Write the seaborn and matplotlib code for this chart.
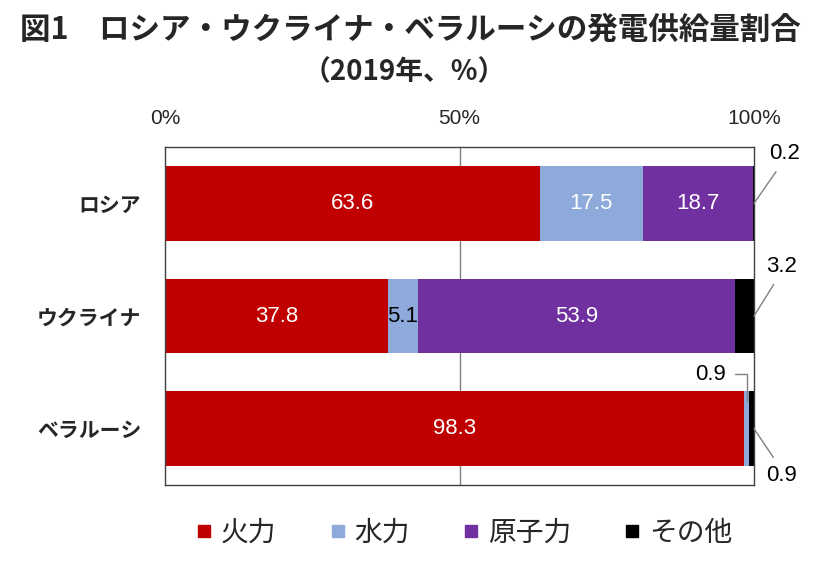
import matplotlib
matplotlib.use("Agg")
import matplotlib.pyplot as plt
from matplotlib.lines import Line2D
import pandas as pd
import seaborn as sns

# データ（2019年、%）
countries = ["ロシア", "ウクライナ", "ベラルーシ"]
sources = ["火力", "水力", "原子力", "その他"]
thermal = [63.6, 37.8, 98.3]
hydro = [17.5, 5.1, 0.9]
nuclear = [18.7, 53.9, 0.0]
other = [0.2, 3.2, 0.9]
colors = ["#C00000", "#8EAADB", "#7030A0", "#000000"]

sns.set_theme(style="white")
plt.rcParams["font.family"] = ["Liberation Sans", "Noto Sans CJK JP"]
JP = ["Noto Sans CJK JP", "Liberation Sans"]

df = pd.DataFrame({"国": countries, "火力": thermal, "水力": hydro,
                   "原子力": nuclear, "その他": other})
cum = df[sources].cumsum(axis=1)
cum["国"] = df["国"]

fig = plt.figure(figsize=(8.25, 5.62), dpi=100)
ax = fig.add_axes([165 / 825, 1 - 485 / 562, 589 / 825, 338 / 562])

# 積み上げ棒：累積値を大きい方から重ねて描く
for src, col in reversed(list(zip(sources, colors))):
    sns.barplot(data=cum, x=src, y="国", order=countries, color=col,
                width=0.66, linewidth=0, saturation=1, ax=ax)

ax.set_xlim(0, 100)
ax.set_xlabel("")
ax.set_ylabel("")
ax.xaxis.tick_top()
ax.set_xticks([0, 50, 100])
ax.set_xticklabels(["0%", "50%", "100%"], fontsize=15)
ax.tick_params(axis="x", length=0, pad=14)
ax.tick_params(axis="y", length=0, pad=17)
for lab in ax.get_yticklabels():
    lab.set_family(JP)
    lab.set_fontweight("bold")
    lab.set_fontsize(15)
ax.axvline(50, color="#808080", lw=1, zorder=0)
for s in ax.spines.values():
    s.set_color("#404040")
    s.set_linewidth(1.0)

# 棒の中の数値
for i, c in enumerate(countries):
    left = 0
    for src in sources:
        v = df.loc[i, src]
        if v >= 5:
            ax.text(left + v / 2, i, f"{v:.1f}", ha="center", va="center",
                    fontsize=16, color="white" if v >= 10 else "black")
        left += v

# 小さい値は引き出し線で表示
def leader(i, src, xy_x, xy_y, off, relpos, conn="arc3"):
    v = df.loc[i, src]
    ax.annotate(f"{v:.1f}", xy=(xy_x, xy_y), xytext=off,
                textcoords="offset points", ha="center", va="center",
                fontsize=16, color="black", annotation_clip=False,
                arrowprops=dict(arrowstyle="-", color="#808080", lw=1,
                                shrinkA=4, shrinkB=0, relpos=relpos,
                                connectionstyle=conn))

leader(0, "その他", 100, 0, (22, 36), (0.4, 0))
leader(1, "その他", 100, 1, (20, 36), (0.4, 0))
b_hydro = df.loc[2, "火力"] + df.loc[2, "水力"] / 2
leader(2, "水力", b_hydro, 2 - 0.25, (-26, 19), (1, 0.5),
       conn="angle,angleA=0,angleB=90,rad=0")
leader(2, "その他", 100, 2, (20, -34), (0.4, 1))

# タイトル
fig.text(0.497, 0.948, "図1　ロシア・ウクライナ・ベラルーシの発電供給量割合",
         ha="center", va="center", fontsize=22, fontweight="bold", family=JP)
fig.text(0.49, 0.872, "（2019年、%）", ha="center", va="center",
         fontsize=20, fontweight="bold", family=JP)

# 凡例
handles = [Line2D([], [], marker="s", linestyle="", color=c, markersize=9)
           for c in colors]
fig.legend(handles, sources, loc="center", bbox_to_anchor=(0.5625, 0.052),
           ncol=4, frameon=False, handlelength=0.6, handletextpad=0.3,
           columnspacing=1.9, prop={"family": JP, "size": 20})

fig.savefig("out.png", dpi=100)
